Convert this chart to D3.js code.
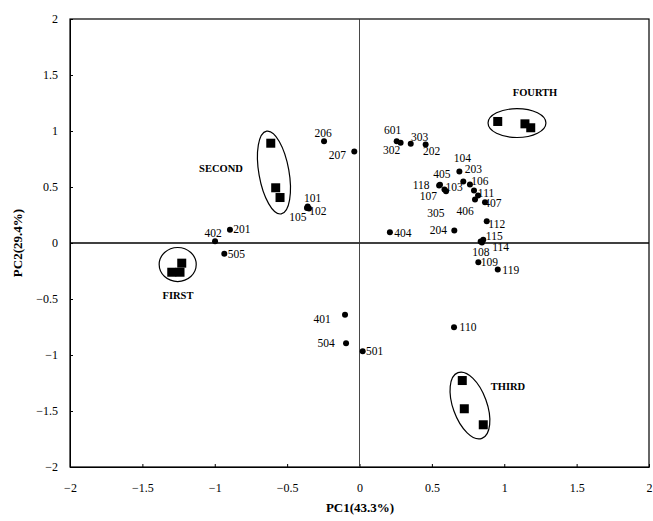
<!DOCTYPE html>
<html><head><meta charset="utf-8">
<script src="https://cdn.jsdelivr.net/npm/d3@7"></script>
<style>body{margin:0;background:#fff}</style>
</head><body>
<svg id="chart" width="653" height="521"></svg>
<script>
// ---- data ----
const sampleNames = ["601","302","303","202","104","203","405","118","103","107","106","111","407","406","305","204","404","112","115","114","108","109","119","110","206","207","101","102","105","201","402","505","401","504","501"];
const samplePC1 = [0.257,0.284,0.354,0.457,0.69,0.717,0.556,0.55,0.598,0.587,0.763,0.819,0.867,0.798,0.791,0.655,0.21,0.879,0.855,0.837,0.846,0.821,0.955,0.653,-0.245,-0.036,-0.358,-0.349,-0.363,-0.895,-0.998,-0.934,-0.10,-0.093,0.022];
const samplePC2 = [0.909,0.895,0.886,0.879,0.638,0.549,0.52,0.513,0.4625,0.478,0.522,0.424,0.364,0.388,0.469,0.112,0.096,0.195,0.029,0.013,0.004,-0.171,-0.237,-0.752,0.909,0.817,0.326,0.308,0.3125,0.118,0.016,-0.096,-0.641,-0.896,-0.966];

const groupNames = ["FIRST","SECOND","THIRD","FOURTH"];
const groupPC1 = [[-1.228,-1.297,-1.24],[-0.613,-0.579,-0.549],[0.71,0.724,0.855],[0.955,1.143,1.183]];
const groupPC2 = [[-0.18,-0.261,-0.261],[0.891,0.493,0.406],[-1.228,-1.48,-1.623],[1.085,1.064,1.029]];
// ellipse outlines in data units: centre, radii, tilt
const ellipseCX = [-1.256,-0.591,0.763,1.088];
const ellipseCY = [-0.192,0.629,-1.451,1.071];
const ellipseRX = [0.128,0.104,0.117,0.2];
const ellipseRY = [0.152,0.375,0.3125,0.129];
const ellipseTilt = [0,-10,-20,0];

const xTicks = [-2,-1.5,-1,-0.5,0,0.5,1,1.5,2];
const yTicks = [-2,-1.5,-1,-0.5,0,0.5,1,1.5,2];

// ---- layout (label offsets in px) ----
const labelOffset = {
 "601":[-4,-11],"302":[-9,7],"303":[9,-7],"202":[6,6],"104":[3,-14],"203":[10,-13],
 "405":[2,-11],"118":[-18,-1],"103":[8,-4],"107":[-16,7],"106":[10,-4],"111":[8,-3],
 "407":[8,1],"406":[-10,11],"305":[-38,23],"204":[-16,0],"404":[13,1],"112":[10,3],
 "115":[11,-4],"114":[20,5],"108":[-1,9],"109":[11,0],"119":[13,0],"110":[14,0],
 "206":[-1,-8],"207":[-17,4],"101":[5,-8],"102":[9,2],"105":[-9,9],"201":[12,-1],
 "402":[-2,-8],"505":[12,0],"401":[-23,4],"504":[-20,0],"501":[12,0]
};
const groupLabelPos = [[178,295],[221,168],[508,386],[535,92]];

const svg = d3.select("#chart");
const L = 70, R = 649, T = 19, B = 467;
const x = d3.scaleLinear().domain([-2,2]).range([L,R]);
const y = d3.scaleLinear().domain([-2,2]).range([B,T]);
const serif = "'Liberation Serif','Times New Roman',serif";

// frame
svg.append("rect").attr("x",L).attr("y",T).attr("width",R-L).attr("height",B-T)
  .attr("fill","none").attr("stroke","#000").attr("stroke-width",1.2);

// axes
const xa = svg.append("g").attr("transform",`translate(0,${B})`)
  .call(d3.axisBottom(x).tickValues(xTicks).tickSizeInner(-3).tickSizeOuter(0).tickPadding(16).tickFormat(d3.format("")));
const ya = svg.append("g").attr("transform",`translate(${L},0)`)
  .call(d3.axisLeft(y).tickValues(yTicks).tickSizeInner(-3).tickSizeOuter(0).tickPadding(12).tickFormat(d3.format("")));
[xa,ya].forEach(a=>{
  a.select(".domain").attr("stroke","#000");
  a.selectAll("text").attr("font-family",serif).attr("font-size",12).attr("fill","#000");
  a.selectAll("line").attr("stroke","#000");
});

// zero lines
svg.append("line").attr("x1",L).attr("x2",R).attr("y1",y(0)).attr("y2",y(0))
  .attr("stroke","#000").attr("stroke-width",1.6);
svg.append("line").attr("x1",x(0)).attr("x2",x(0)).attr("y1",T).attr("y2",B)
  .attr("stroke","#333").attr("stroke-width",0.9);

// axis titles
svg.append("text").attr("x",360).attr("y",512).attr("text-anchor","middle")
  .attr("font-family",serif).attr("font-weight","bold").attr("font-size",13).text("PC1(43.3%)");
svg.append("text").attr("transform","translate(22,243) rotate(-90)").attr("text-anchor","middle")
  .attr("font-family",serif).attr("font-weight","bold").attr("font-size",13).text("PC2(29.4%)");

// ellipses
groupNames.forEach((g,i)=>{
  const cx = x(ellipseCX[i]), cy = y(ellipseCY[i]);
  svg.append("ellipse").attr("cx",cx).attr("cy",cy)
    .attr("rx",x(ellipseRX[i])-x(0)).attr("ry",y(0)-y(ellipseRY[i]))
    .attr("transform",`rotate(${ellipseTilt[i]},${cx},${cy})`)
    .attr("fill","none").attr("stroke","#000").attr("stroke-width",1.2);
  svg.append("text").attr("x",groupLabelPos[i][0]).attr("y",groupLabelPos[i][1])
    .attr("text-anchor","middle").attr("dominant-baseline","central")
    .attr("font-family",serif).attr("font-weight","bold").attr("font-size",10.5).text(g);
});

// squares
const sq = [];
groupNames.forEach((g,i)=>groupPC1[i].forEach((v,j)=>sq.push({x:v,y:groupPC2[i][j]})));
svg.append("g").selectAll("rect").data(sq).join("rect")
  .attr("x",d=>x(d.x)-4.5).attr("y",d=>y(d.y)-4.5).attr("width",9).attr("height",9).attr("fill","#000");

// sample dots & labels
const pts = sampleNames.map((n,i)=>({n,x:samplePC1[i],y:samplePC2[i]}));
svg.append("g").selectAll("circle").data(pts).join("circle")
  .attr("cx",d=>x(d.x)).attr("cy",d=>y(d.y)).attr("r",3).attr("fill","#000");
svg.append("g").selectAll("text").data(pts).join("text")
  .attr("x",d=>x(d.x)+labelOffset[d.n][0]).attr("y",d=>y(d.y)+labelOffset[d.n][1])
  .attr("text-anchor","middle").attr("dominant-baseline","central")
  .attr("font-family",serif).attr("font-size",11.5).attr("fill","#000").text(d=>d.n);
</script>
</body></html>
